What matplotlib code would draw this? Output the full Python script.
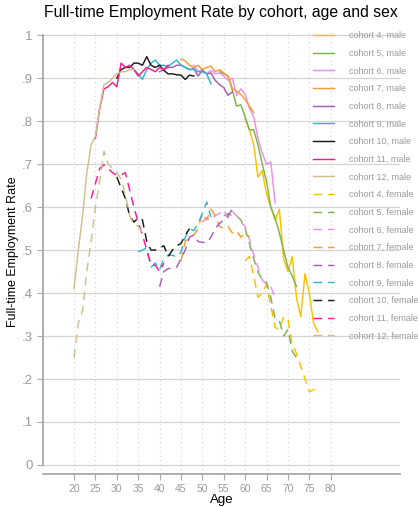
import matplotlib
matplotlib.use("Agg")
import matplotlib.pyplot as plt

plt.rcParams["font.family"] = ["Liberation Sans", "DejaVu Sans"]

# employment rates by cohort (male), starting age + yearly values
m4_start = 60
m4 = [.805, .78, .745, .67, .685, .63, .60, .57, .595, .48, .45, .485, .39, .345, .445, .40, .33, .31]
m5_start = 54
m5 = [.915, .91, .905, .872, .835, .838, .81, .78, .78, .745, .70, .66, .60, .575, .54, .50, .46, .44, .415]
m6_start = 48
m6 = [.93, .915, .92, .91, .918, .91, .912, .905, .895, .90, .86, .875, .862, .83, .81, .76, .725, .70, .705, .61]
m7_start = 45
m7 = [.945, .94, .93, .925, .93, .92, .925, .928, .915, .92, .912, .905, .876, .87, .862, .85, .835, .82]
m8_start = 40
m8 = [.915, .92, .925, .925, .93, .93, .925, .92, .922, .905, .918, .91, .912, .895, .885, .878, .86, .868]
m9_start = 34
m9 = [.92, .91, .897, .92, .935, .942, .93, .93, .927, .935, .942, .93, .925, .92, .92, .915, .915, .91, .887]
m10_start = 30
m10 = [.90, .92, .925, .925, .935, .935, .93, .95, .93, .925, .93, .918, .91, .91, .908, .907, .897, .907, .905]
m11_start = 25
m11 = [.76, .83, .875, .88, .89, .88, .935, .925, .93, .92, .905, .915, .925, .92, .915, .925, .92, .93]
m12_start = 20
m12 = [.41, .50, .58, .68, .745, .765, .83, .885, .89, .90, .91, .915, .915, .92, .92]

# employment rates by cohort (female)
f4_start = 60
f4 = [.475, .485, .44, .39, .40, .42, .37, .32, .315, .345, .34, .28, .26, .23, .20, .17, .175, .18]
f5_start = 55
f5 = [.58, .585, .58, .58, .57, .55, .515, .48, .45, .43, .425, .39, .34, .335, .30, .315, .265, .25]
f6_start = 50
f6 = [.565, .575, .57, .58, .585, .593, .575, .59, .58, .565, .555, .525, .49, .46, .43, .42, .415, .388]
f7_start = 45
f7 = [.475, .52, .53, .535, .55, .585, .57, .595, .58, .555, .55, .555, .54, .545, .53, .54, .53]
f8_start = 40
f8 = [.415, .45, .457, .457, .46, .48, .50, .53, .535, .52, .518, .517, .53, .55, .562, .57, .58, .595]
f9_start = 35
f9 = [.496, .50, .505, .46, .47, .455, .48, .488, .488, .484, .495, .53, .55, .545, .562, .585, .612, .577]
f10_start = 30
f10 = [.67, .645, .62, .58, .565, .575, .57, .52, .50, .50, .505, .51, .485, .50, .51, .515, .535, .55]
f11_start = 24
f11 = [.62, .655, .69, .698, .69, .68, .674, .675, .68, .64, .60, .565, .535, .50, .465, .465, .45, .47]
f12_start = 20
f12 = [.25, .33, .36, .45, .52, .60, .66, .73, .70, .69, .68, .665, .63, .58, .56, .555, .54]

cohorts = [4, 5, 6, 7, 8, 9, 10, 11, 12]
colors = ["#FFBF00", "#7AB648", "#EE8EEE", "#FF9A2E", "#A65DB5",
          "#2EB8D6", "#1A1A1A", "#FF1A8C", "#CDC08A"]
male = [(m4_start, m4), (m5_start, m5), (m6_start, m6), (m7_start, m7), (m8_start, m8),
        (m9_start, m9), (m10_start, m10), (m11_start, m11), (m12_start, m12)]
female = [(f4_start, f4), (f5_start, f5), (f6_start, f6), (f7_start, f7), (f8_start, f8),
          (f9_start, f9), (f10_start, f10), (f11_start, f11), (f12_start, f12)]

fig = plt.figure(figsize=(4.18, 5.07), dpi=100)
ax = fig.add_axes([0.1029, 0.0651, 0.854, 0.8757])

grid_c = "#d4d4d4"
axis_c = "#a8a8a8"
text_c = "#9a9a9a"

for v in [i / 10 for i in range(11)]:
    ax.axhline(v, color=grid_c, lw=0.9, zorder=0)
for a in range(20, 85, 5):
    ax.axvline(a, color=grid_c, lw=0.8, ls=(0, (1, 3)), zorder=0)

for c, col, (s, vals) in zip(cohorts, colors, male):
    ax.plot(range(s, s + len(vals)), vals, color=col, lw=1.05,
            label=f"cohort {c}, male")
for c, col, (s, vals) in zip(cohorts, colors, female):
    ax.plot(range(s, s + len(vals)), vals, color=col, lw=1.05, ls=(0, (6, 4)),
            label=f"cohort {c}, female")

ax.set_xlim(12.75, 96.2)
ax.set_ylim(-0.021, 1.012)
ax.set_xticks(range(20, 85, 5))
ax.set_yticks([i / 10 for i in range(11)])
ax.set_yticklabels(["0", ".1", ".2", ".3", ".4", ".5", ".6", ".7", ".8", ".9", "1"])

for side in ["top", "right"]:
    ax.spines[side].set_visible(False)
ax.spines["left"].set_bounds(0, 1)
ax.spines["left"].set_color(axis_c)
ax.spines["left"].set_linewidth(1.3)
ax.spines["bottom"].set_color(axis_c)
ax.spines["bottom"].set_linewidth(1.3)
ax.tick_params(axis="y", colors=axis_c, labelcolor=text_c, labelsize=9.5, length=4, width=0.8)
ax.tick_params(axis="x", colors=axis_c, labelcolor=text_c, labelsize=7.5, length=4, width=0.8)

ax.set_xlabel("Age", fontsize=9.5, labelpad=0)
ax.set_ylabel("Full-time Employment Rate", fontsize=9)
ax.yaxis.set_label_coords(-0.066, 0.5)
fig.text(221 / 418, 1 - 13 / 507, "Full-time Employment Rate by cohort, age and sex",
         fontsize=11.3, ha="center", va="center")

leg = fig.legend(loc="upper left", bbox_to_anchor=(313 / 418, 1 - 31 / 507), frameon=False,
                 fontsize=6.5, handlelength=2.35, handletextpad=1.6,
                 labelspacing=0.96, borderpad=0, borderaxespad=0)
for t in leg.get_texts():
    t.set_color(text_c)

fig.savefig("out.png", dpi=100)
